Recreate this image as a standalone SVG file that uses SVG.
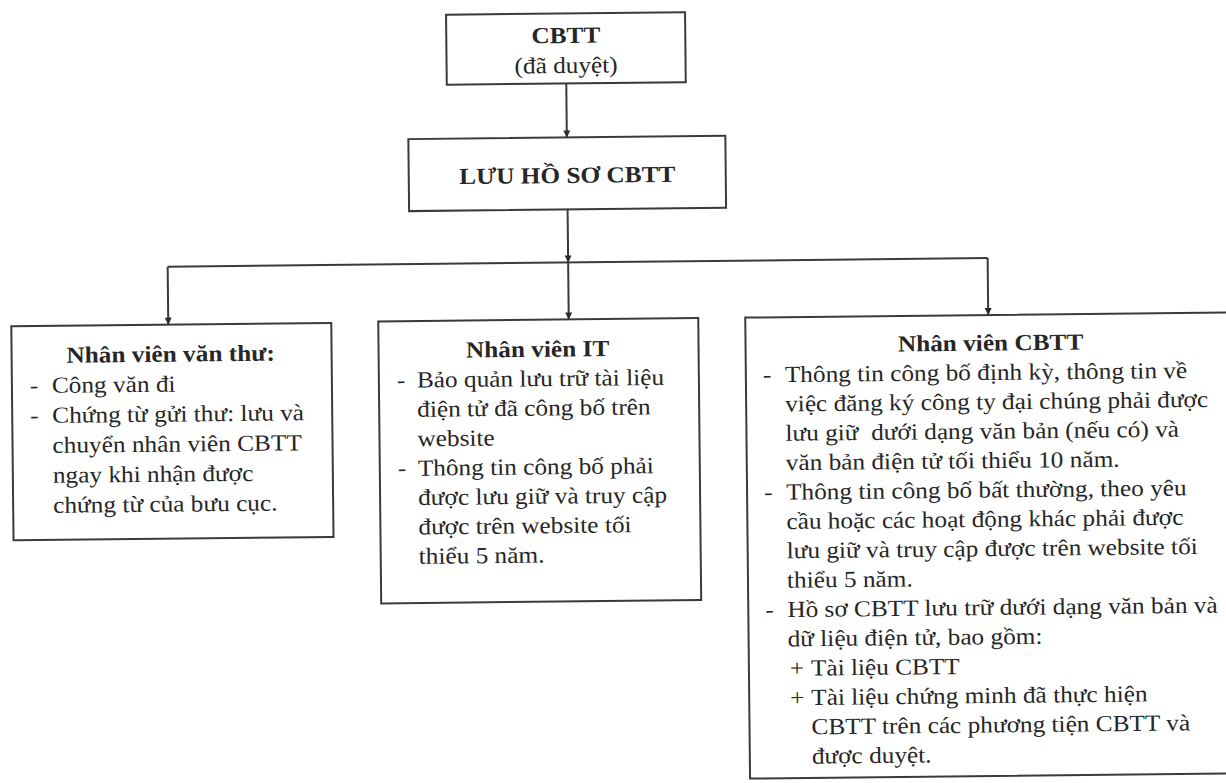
<svg xmlns="http://www.w3.org/2000/svg" width="1226" height="783" viewBox="0 0 1226 783">
<style>
.box{fill:#fff;stroke:#3a3a3a;stroke-width:2}
.ln{fill:none;stroke:#3a3a3a;stroke-width:2}
.t{font-family:'Liberation Serif','Times New Roman','DejaVu Serif',serif;font-size:23px;fill:#262626}
.b{font-weight:bold}
.c{text-anchor:middle}
</style>
<defs>
<marker id="ad" markerUnits="userSpaceOnUse" markerWidth="8" markerHeight="8" viewBox="0 0 8 8" refX="8" refY="4" orient="auto">
<path d="M1,0.5 L8,4 L1,7.5 Z" fill="#2a2a2a"/>
</marker>
</defs>
<rect width="1226" height="783" fill="#fff"/>
<g transform="rotate(-0.6 613 391)">
<g id="connectors">
<line class="ln" x1="569.5" y1="83" x2="569.5" y2="137" marker-end="url(#ad)"/>
<line class="ln" x1="569.5" y1="209" x2="569.5" y2="262" marker-end="url(#ad)"/>
<polyline class="ln" points="169,262 989,262"/>
<line class="ln" x1="169" y1="262" x2="169" y2="320" marker-end="url(#ad)"/>
<line class="ln" x1="569.5" y1="262" x2="569.5" y2="319" marker-end="url(#ad)"/>
<line class="ln" x1="989" y1="262" x2="989" y2="319" marker-end="url(#ad)"/>
</g>
<g id="cbtt" class="t" font-family="Liberation Serif, DejaVu Serif, serif">
<rect class="box" x="450" y="13" width="239" height="70"/>
<text class="b c" transform="translate(569.5,42.5) scale(1.1,1)">CBTT</text>
<text class="c" transform="translate(569.5,72.5) scale(1.1,1)">(đã duyệt)</text>
</g>
<g id="luu" class="t" font-family="Liberation Serif, DejaVu Serif, serif">
<rect class="box" x="411" y="137" width="317" height="72"/>
<text class="b c" transform="translate(569.5,182.5) scale(1.1,1)">LƯU HỒ SƠ CBTT</text>
</g>
<g id="vanthu" class="t" font-family="Liberation Serif, DejaVu Serif, serif">
<rect class="box" x="12" y="320" width="320" height="214"/>
<text class="b c" transform="translate(171,357) scale(1.1,1)">Nhân viên văn thư:</text>
<text transform="translate(30,387) scale(1.1,1)">-</text>
<text transform="translate(52,387) scale(1.1,1)">Công văn đi</text>
<text transform="translate(30,417) scale(1.1,1)">-</text>
<text transform="translate(52,417) scale(1.1,1)">Chứng từ gửi thư: lưu và</text>
<text transform="translate(52,447) scale(1.1,1)">chuyển nhân viên CBTT</text>
<text transform="translate(52,477) scale(1.1,1)">ngay khi nhận được</text>
<text transform="translate(52,507) scale(1.1,1)">chứng từ của bưu cục.</text>
</g>
<g id="it" class="t" font-family="Liberation Serif, DejaVu Serif, serif">
<rect class="box" x="379" y="319" width="320" height="282"/>
<text class="b c" transform="translate(538,356) scale(1.1,1)">Nhân viên IT</text>
<text transform="translate(397,385.4) scale(1.1,1)">-</text>
<text transform="translate(417,385.4) scale(1.1,1)">Bảo quản lưu trữ tài liệu</text>
<text transform="translate(417,414.8) scale(1.1,1)">điện tử đã công bố trên</text>
<text transform="translate(417,444.2) scale(1.1,1)">website</text>
<text transform="translate(397,473.6) scale(1.1,1)">-</text>
<text transform="translate(417,473.6) scale(1.1,1)">Thông tin công bố phải</text>
<text transform="translate(417,503) scale(1.1,1)">được lưu giữ và truy cập</text>
<text transform="translate(417,532.4) scale(1.1,1)">được trên website tối</text>
<text transform="translate(417,561.8) scale(1.1,1)">thiểu 5 năm.</text>
</g>
<g id="cbttstaff" class="t" font-family="Liberation Serif, DejaVu Serif, serif">
<rect class="box" x="746" y="319" width="540" height="461"/>
<text class="b c" transform="translate(991,354.5) scale(1.1,1)">Nhân viên CBTT</text>
<text transform="translate(763,383.9) scale(1.1,1)">-</text>
<text transform="translate(785,383.9) scale(1.1,1)">Thông tin công bố định kỳ, thông tin về</text>
<text transform="translate(785,413.2) scale(1.1,1)">việc đăng ký công ty đại chúng phải được</text>
<text transform="translate(785,442.6) scale(1.1,1)">lưu giữ&#160; dưới dạng văn bản (nếu có) và</text>
<text transform="translate(785,472) scale(1.1,1)">văn bản điện tử tối thiểu 10 năm.</text>
<text transform="translate(763,501.4) scale(1.1,1)">-</text>
<text transform="translate(785,501.4) scale(1.1,1)">Thông tin công bố bất thường, theo yêu</text>
<text transform="translate(785,530.7) scale(1.1,1)">cầu hoặc các hoạt động khác phải được</text>
<text transform="translate(785,560.1) scale(1.1,1)">lưu giữ và truy cập được trên website tối</text>
<text transform="translate(785,589.5) scale(1.1,1)">thiểu 5 năm.</text>
<text transform="translate(763,618.9) scale(1.1,1)">-</text>
<text transform="translate(785,618.9) scale(1.1,1)">Hồ sơ CBTT lưu trữ dưới dạng văn bản và</text>
<text transform="translate(785,648.2) scale(1.1,1)">dữ liệu điện tử, bao gồm:</text>
<text transform="translate(787,677.6) scale(1.1,1)">+</text>
<text transform="translate(808,677.6) scale(1.1,1)">Tài liệu CBTT</text>
<text transform="translate(787,707) scale(1.1,1)">+</text>
<text transform="translate(808,707) scale(1.1,1)">Tài liệu chứng minh đã thực hiện</text>
<text transform="translate(808,736.4) scale(1.1,1)">CBTT trên các phương tiện CBTT và</text>
<text transform="translate(808,765.7) scale(1.1,1)">được duyệt.</text>
</g>
</g>
</svg>
